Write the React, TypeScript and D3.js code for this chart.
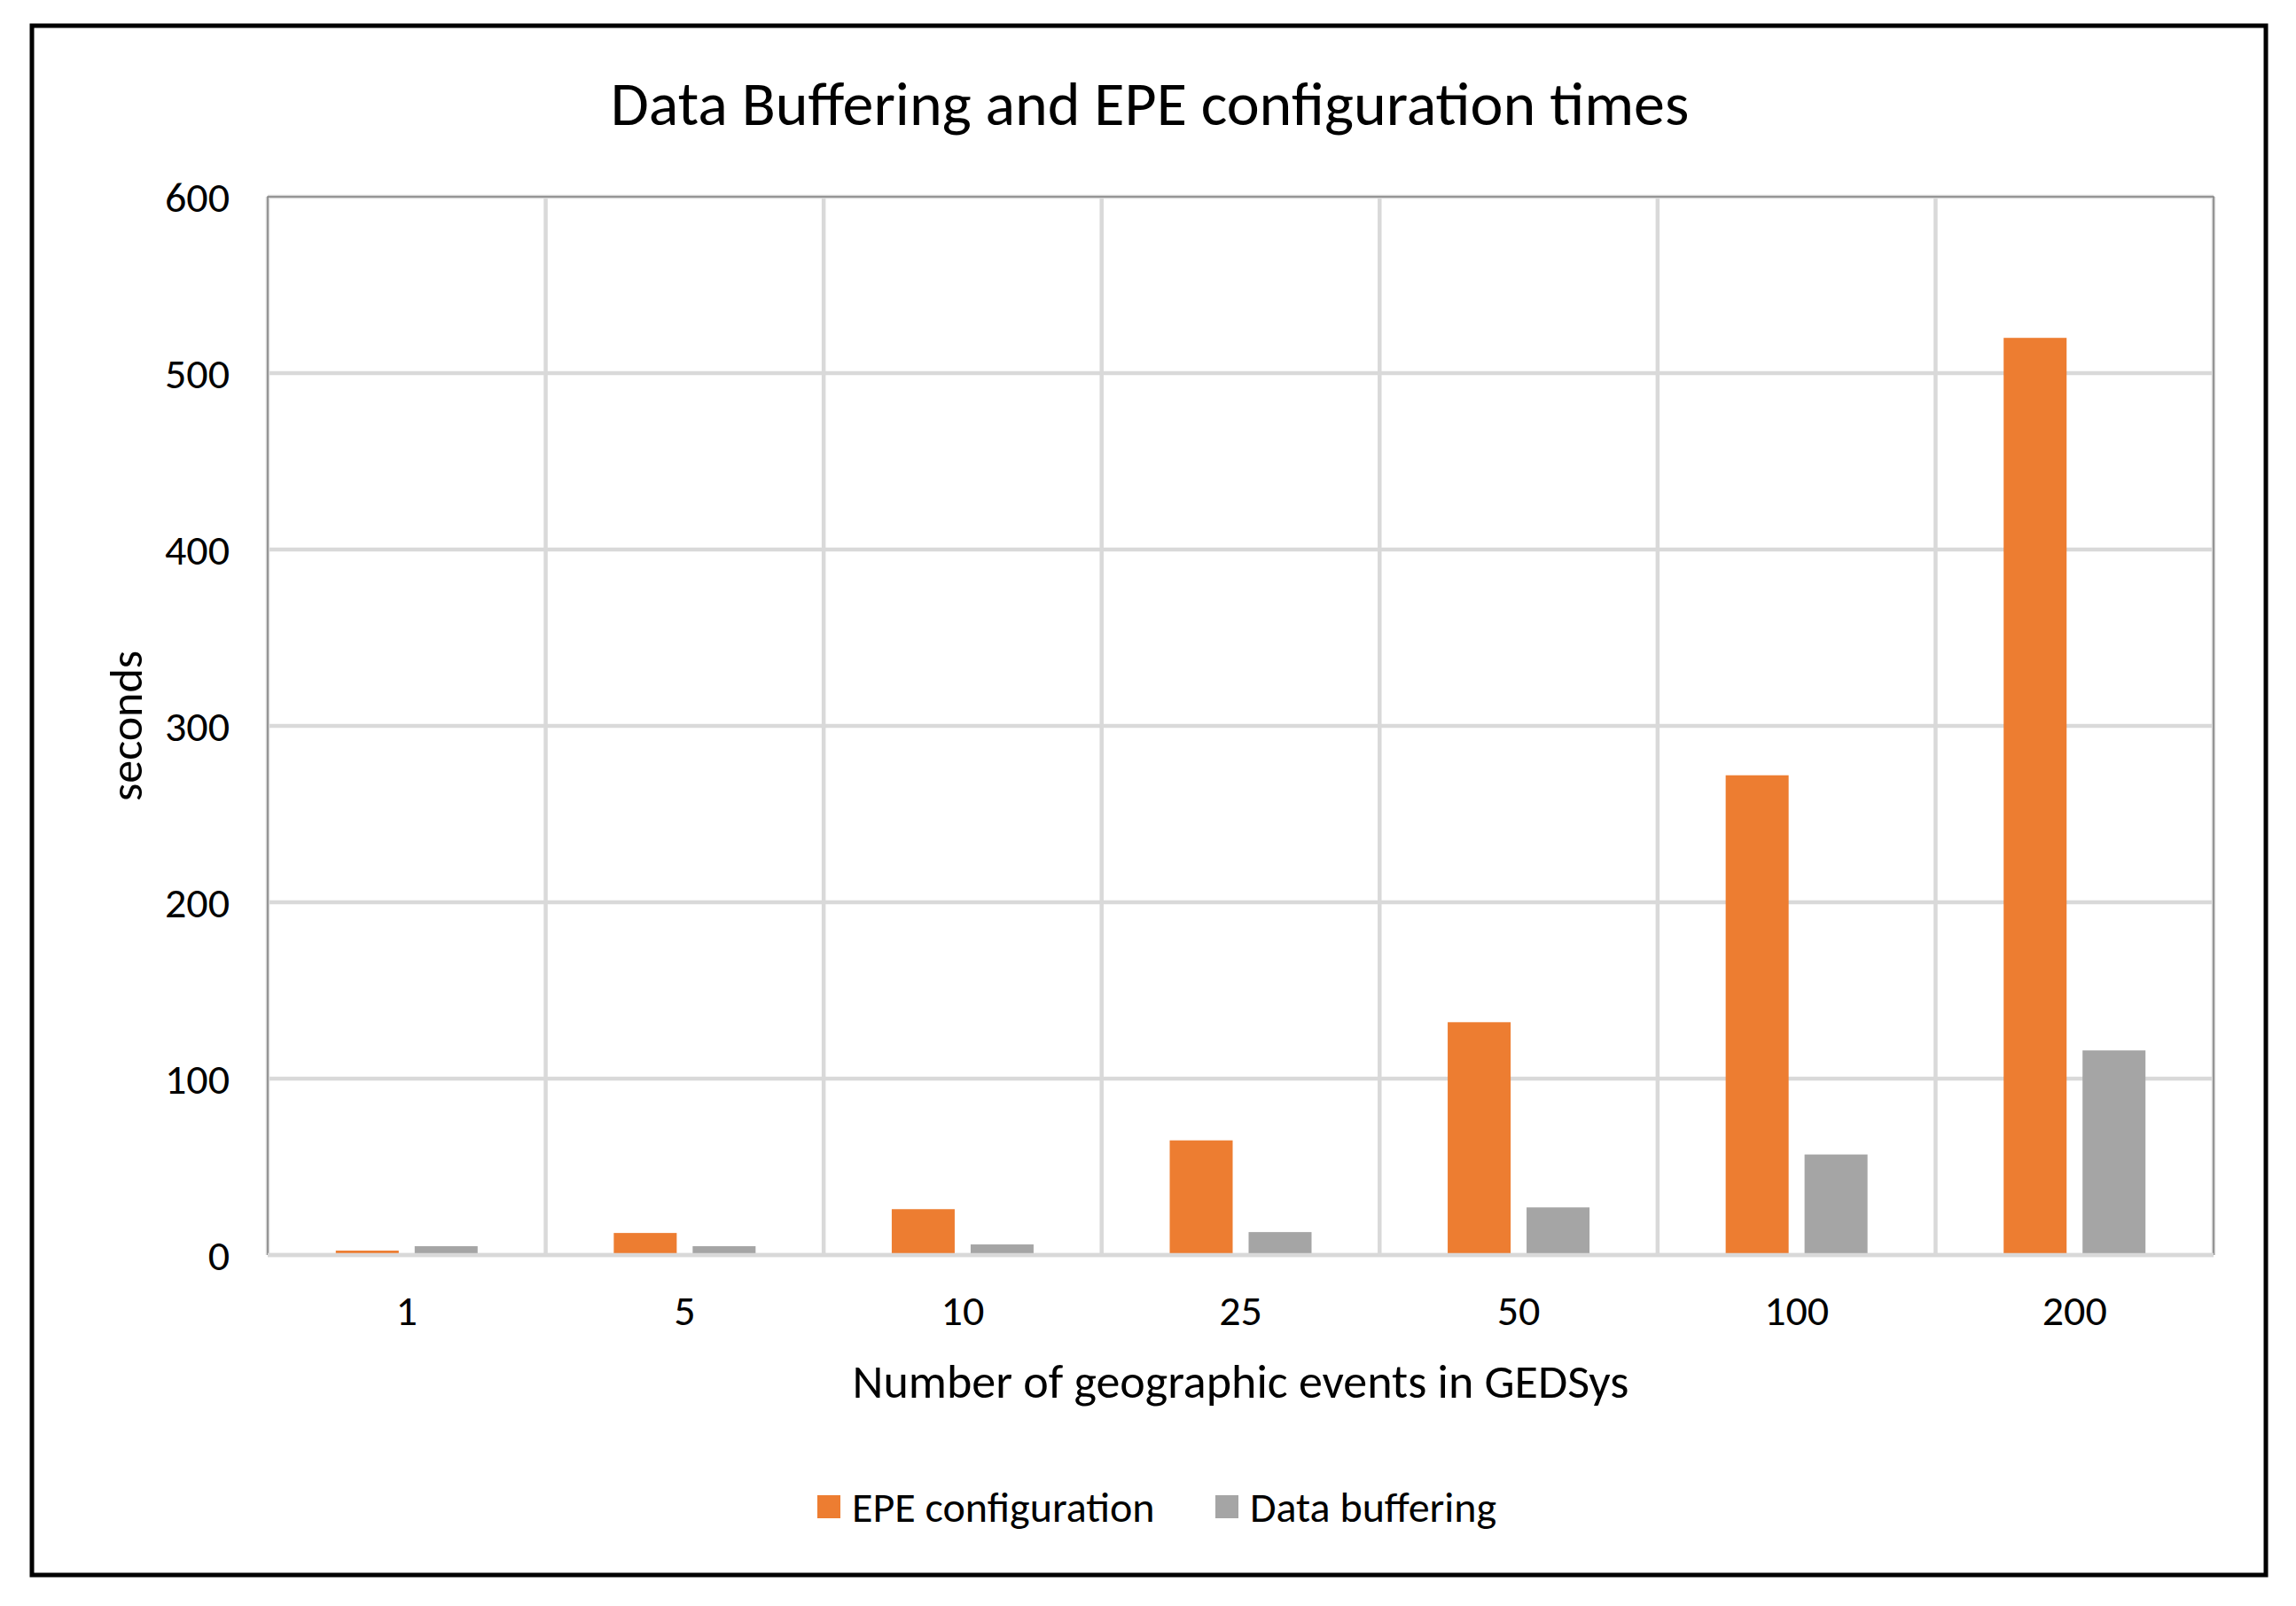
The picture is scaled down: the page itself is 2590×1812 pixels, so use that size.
import { useEffect, useRef } from 'react';
import * as d3 from 'd3';

const categories = ['1', '5', '10', '25', '50', '100', '200'];
const seriesNames = ['EPE configuration', 'Data buffering'];
const epeConfiguration = [2.5, 12.5, 26, 65, 132, 272, 520];
const dataBuffering = [5, 5, 6, 13, 27, 57, 116];
const yTicks = [0, 100, 200, 300, 400, 500, 600];
const colors = ['#ED7D31', '#A5A5A5'];

const WIDTH = 2590;
const HEIGHT = 1812;
const FONT = "Carlito, Calibri, 'Noto Sans', sans-serif";

const App = () => {
  const svgRef = useRef<SVGSVGElement>(null);

  useEffect(() => {
    const svg = d3.select(svgRef.current);
    svg.selectAll('*').remove();

    svg.attr('width', WIDTH).attr('height', HEIGHT);

    svg.append('rect')
      .attr('width', WIDTH)
      .attr('height', HEIGHT)
      .attr('fill', '#fff');

    // outer frame
    svg.append('rect')
      .attr('x', 36)
      .attr('y', 29)
      .attr('width', 2520)
      .attr('height', 1748)
      .attr('fill', 'none')
      .attr('stroke', '#000')
      .attr('stroke-width', 5);

    const plot = { left: 302, right: 2497, top: 222, bottom: 1416 };

    const x = d3.scaleBand<string>()
      .domain(categories)
      .range([plot.left, plot.right])
      .padding(0);

    const y = d3.scaleLinear()
      .domain([0, 600])
      .range([plot.bottom, plot.top]);

    const inner = d3.scaleBand<string>()
      .domain(seriesNames)
      .range([0, 160])
      .paddingInner(0.202)
      .paddingOuter(0);

    const g = svg.append('g');

    // horizontal grid
    g.selectAll('.hgrid')
      .data(yTicks)
      .enter()
      .append('line')
      .attr('x1', plot.left)
      .attr('x2', plot.right)
      .attr('y1', d => y(d))
      .attr('y2', d => y(d))
      .attr('stroke', '#D9D9D9')
      .attr('stroke-width', 4.5);

    // vertical grid (category separators)
    const seps = categories.map(c => x(c) as number).concat([plot.right]);
    g.selectAll('.vgrid')
      .data(seps)
      .enter()
      .append('line')
      .attr('x1', d => d)
      .attr('x2', d => d)
      .attr('y1', plot.top)
      .attr('y2', plot.bottom)
      .attr('stroke', '#D9D9D9')
      .attr('stroke-width', 4.5);

    // plot border (thin dark line)
    g.append('path')
      .attr('d', `M${plot.left},${plot.bottom}V${plot.top}H${plot.right}V${plot.bottom}`)
      .attr('fill', 'none')
      .attr('stroke', '#7F7F7F')
      .attr('stroke-width', 1.5);

    // bars
    const series = [epeConfiguration, dataBuffering];
    series.forEach((values, si) => {
      g.selectAll(`.bar-${si}`)
        .data(values)
        .enter()
        .append('rect')
        .attr('x', (_, i) => (x(categories[i]) as number) + (x.bandwidth() - 160) / 2 + (inner(seriesNames[si]) as number))
        .attr('y', d => y(d))
        .attr('width', inner.bandwidth())
        .attr('height', d => plot.bottom - y(d))
        .attr('fill', colors[si]);
    });

    // baseline
    g.append('line')
      .attr('x1', plot.left)
      .attr('x2', plot.right)
      .attr('y1', plot.bottom)
      .attr('y2', plot.bottom)
      .attr('stroke', '#D9D9D9')
      .attr('stroke-width', 4.5);

    // y tick labels
    g.selectAll('.ylab')
      .data(yTicks)
      .enter()
      .append('text')
      .attr('x', 259)
      .attr('y', d => y(d))
      .attr('dy', '0.35em')
      .attr('text-anchor', 'end')
      .attr('font-family', FONT)
      .attr('font-size', 48)
      .attr('fill', '#000')
      .text(d => d);

    // x tick labels
    g.selectAll('.xlab')
      .data(categories)
      .enter()
      .append('text')
      .attr('x', d => (x(d) as number) + x.bandwidth() / 2)
      .attr('y', 1478)
      .attr('dy', '0.35em')
      .attr('text-anchor', 'middle')
      .attr('font-family', FONT)
      .attr('font-size', 48)
      .attr('fill', '#000')
      .text(d => d);

    // title
    svg.append('text')
      .attr('x', 1297)
      .attr('y', 116)
      .attr('dy', '0.35em')
      .attr('text-anchor', 'middle')
      .attr('font-family', FONT)
      .attr('font-size', 70)
      .attr('fill', '#000')
      .text('Data Buffering and EPE configuration times');

    // x axis title
    svg.append('text')
      .attr('x', (plot.left + plot.right) / 2)
      .attr('y', 1558)
      .attr('dy', '0.35em')
      .attr('text-anchor', 'middle')
      .attr('font-family', FONT)
      .attr('font-size', 54)
      .attr('fill', '#000')
      .text('Number of geographic events in GEDSys');

    // y axis title
    svg.append('text')
      .attr('transform', `translate(142,${(plot.top + plot.bottom) / 2}) rotate(-90)`)
      .attr('dy', '0.35em')
      .attr('text-anchor', 'middle')
      .attr('font-family', FONT)
      .attr('font-size', 52)
      .attr('fill', '#000')
      .text('seconds');

    // legend
    const legendX = [922, 1371];
    seriesNames.forEach((name, i) => {
      svg.append('rect')
        .attr('x', legendX[i])
        .attr('y', 1687)
        .attr('width', 26)
        .attr('height', 26)
        .attr('fill', colors[i]);
      svg.append('text')
        .attr('x', legendX[i] + 39)
        .attr('y', 1700)
        .attr('dy', '0.35em')
        .attr('font-family', FONT)
        .attr('font-size', 48)
        .attr('fill', '#000')
        .text(name);
    });
  }, []);

  return (
    <svg ref={svgRef} style={{ position: 'absolute', left: 0, top: 0, display: 'block' }}></svg>
  );
};

export default App;
